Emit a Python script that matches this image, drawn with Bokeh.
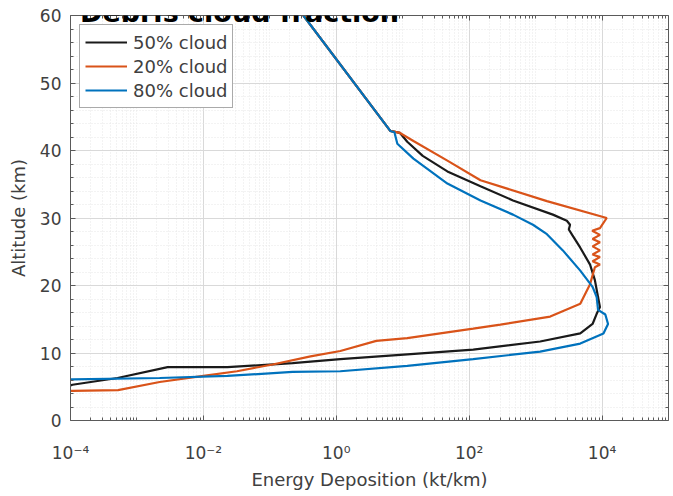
from bokeh.plotting import figure
from bokeh.models import (FixedTicker, LogAxis, LinearAxis, Legend, LegendItem, Label)
from bokeh.embed import file_html
from bokeh.resources import INLINE

# ---- data (Energy deposition kt/km, altitude km) ----
e_50 = [0.32, 6.5, 9.1, 11.7, 20, 47, 148, 457, 1820, 2950, 3300, 3160, 3550, 4700, 6600,
        7800, 8700, 9300, 8300, 7200, 4700, 1170, 115, 11.7, 1.15, 0.22, 0.023, 0.0029,
        0.00051, 0.000107, 0.0001]
alt_50 = [60, 42.9, 42.6, 41.3, 39.2, 36.9, 34.7, 32.6, 30.5, 29.6, 29.0, 28.3, 27.5, 25.6, 23.1,
          20.8, 18.3, 16.8, 15.8, 14.3, 12.9, 11.7, 10.5, 9.8, 9.1, 8.5, 7.9, 7.9,
          6.3, 5.3, 5.2]

e_20 = [0.32, 6.5, 9.1, 14.5, 47, 148, 1480, 11750, 9300, 7100, 9300, 7200, 9300, 7200, 9300,
        7200, 9300, 7200, 9300, 7800, 6600, 4700, 1660, 295, 115, 11.7, 4.0, 1.15, 0.41,
        0.11, 0.032, 0.010, 0.0022, 0.00052, 0.000107, 0.0001]
alt_20 = [60, 42.9, 42.6, 41.4, 38.5, 35.6, 32.5, 30.0, 28.5, 28.1, 27.5, 26.9, 26.4, 25.8, 25.2,
          24.6, 24.2, 23.6, 23.1, 22.7, 20.2, 17.3, 15.4, 14.2, 13.6, 12.2, 11.8, 10.3, 9.5,
          8.3, 7.3, 6.6, 5.7, 4.5, 4.4, 4.4]

e_80 = [0.32, 6.5, 7.5, 8.3, 14.5, 47, 148, 457, 912, 1480, 2570, 4700, 7200, 8300, 8700,
        11200, 12300, 10500, 4700, 1170, 115, 11.7, 1.15, 0.22, 0.023, 0.0022, 0.000107, 0.0001]
alt_80 = [60, 42.9, 42.7, 41.0, 38.8, 35.1, 32.6, 30.5, 29.0, 27.6, 25.2, 22.2, 19.8, 18.3, 16.4,
          15.7, 14.3, 12.9, 11.4, 10.2, 9.1, 8.1, 7.3, 7.2, 6.6, 6.3, 6.1, 6.1]

series_names = ["50% cloud", "20% cloud", "80% cloud"]
series_colors = ["#1a1a1a", "#D95319", "#0072BD"]

x_major = [1e-4, 1e-2, 1, 1e2, 1e4]
x_major_labels = ["10\u207b\u2074", "10\u207b\u00b2", "10\u2070", "10\u00b2", "10\u2074"]
y_major = [0, 10, 20, 30, 40, 50, 60]

title_text = "Debris cloud fraction"
x_label = "Energy Deposition (kt/km)"
y_label = "Altitude (km)"

FONT = "DejaVu Sans"
TXT = "#404040"

p = figure(width=673, height=492, x_axis_type="log", x_range=(1e-4, 1e5), y_range=(0, 60),
           output_backend="svg", toolbar_location=None,
           min_border_left=70, min_border_right=5, min_border_top=15, min_border_bottom=67)

x_minor = []
for k in range(-4, 5):
    for m in range(1, 10):
        v = m * 10.0 ** k
        if v not in x_major:
            x_minor.append(v)
y_minor = [v for v in range(0, 61, 2) if v % 10 != 0]

xt = FixedTicker(ticks=x_major, minor_ticks=x_minor)
yt = FixedTicker(ticks=y_major, minor_ticks=y_minor)

p.xaxis.ticker = xt
p.yaxis.ticker = yt
p.xaxis.major_label_overrides = {v: s for v, s in zip(x_major, x_major_labels)}

for ax in [p.xaxis[0], p.yaxis[0]]:
    ax.major_tick_in = 5
    ax.major_tick_out = 0
    ax.minor_tick_in = 3
    ax.minor_tick_out = 0
    ax.axis_line_color = "#5a5a5a"
    ax.major_tick_line_color = "#5a5a5a"
    ax.minor_tick_line_color = "#5a5a5a"
    ax.major_label_text_font = FONT
    ax.major_label_text_font_size = "17px"
    ax.major_label_text_color = TXT
    ax.axis_label_text_font = FONT
    ax.axis_label_text_font_size = "18px"
    ax.axis_label_text_color = TXT
    ax.axis_label_text_font_style = "normal"

p.xaxis.axis_label = x_label
p.yaxis.axis_label = y_label
p.xaxis.major_label_standoff = 22
p.xaxis.axis_label_standoff = 3
p.yaxis.major_label_standoff = 9
p.yaxis.axis_label_standoff = 8

top_ax = LogAxis(ticker=xt, major_label_text_color=None, major_tick_in=5, major_tick_out=0,
                 minor_tick_in=3, minor_tick_out=0, axis_line_color="#5a5a5a",
                 major_tick_line_color="#5a5a5a", minor_tick_line_color="#5a5a5a",
                 major_label_text_font_size="1px")
right_ax = LinearAxis(ticker=yt, major_label_text_color=None, major_tick_in=5, major_tick_out=0,
                      minor_tick_in=3, minor_tick_out=0, axis_line_color="#5a5a5a",
                      major_tick_line_color="#5a5a5a", minor_tick_line_color="#5a5a5a",
                      major_label_text_font_size="1px")
p.add_layout(top_ax, "above")
p.add_layout(right_ax, "right")

p.outline_line_color = None
p.xgrid.grid_line_color = "#d9d9d9"
p.ygrid.grid_line_color = "#d9d9d9"
p.xgrid.minor_grid_line_color = "#e6e6e6"
p.ygrid.minor_grid_line_color = "#e6e6e6"
p.xgrid.minor_grid_line_dash = "1 2"
p.ygrid.minor_grid_line_dash = "1 2"

renderers = []
for xs, ys, c in [(e_50, alt_50, series_colors[0]), (e_20, alt_20, series_colors[1]),
                  (e_80, alt_80, series_colors[2])]:
    r = p.line(xs, ys, line_color=c, line_width=2.2)
    renderers.append(r)

legend = Legend(items=[LegendItem(label=n, renderers=[r]) for n, r in zip(series_names, renderers)],
                location="top_left", margin=9, padding=5, spacing=0,
                glyph_width=42, glyph_height=24, label_height=24, label_standoff=6,
                label_text_font=FONT, label_text_font_size="18px", label_text_color=TXT,
                border_line_color="#555555", border_line_width=1,
                background_fill_color="white", background_fill_alpha=1)
p.add_layout(legend, "center")

title = Label(x=0.035, y=60.5, text=title_text, text_align="center", text_baseline="alphabetic",
              text_font=FONT, text_font_size="27px", text_font_style="bold", text_color="black")
p.add_layout(title)

open("out.html", "w").write(file_html(p, INLINE))
